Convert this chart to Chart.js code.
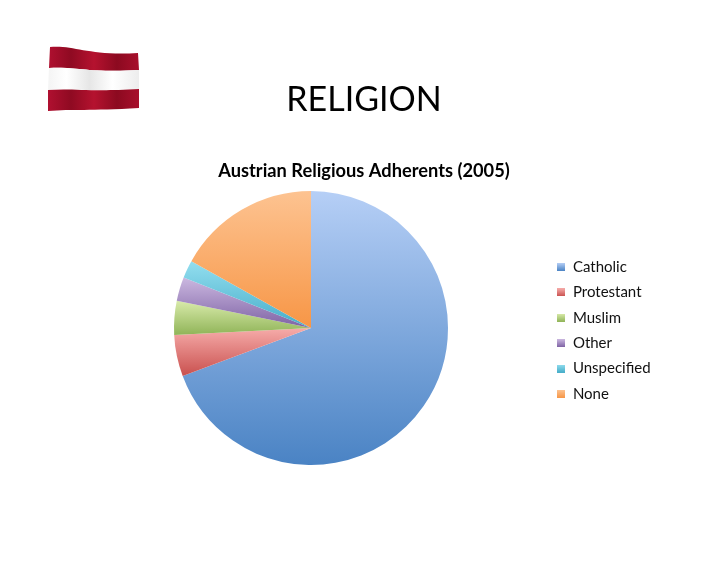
<!DOCTYPE html>
<html>
<head>
<meta charset="utf-8">
<title>Religion</title>
<script src="https://cdn.jsdelivr.net/npm/chart.js@4"></script>
<style>
html,body{margin:0;padding:0;background:#fff;}
#wrap{position:relative;width:728px;height:563px;overflow:hidden;}
</style>
</head>
<body>
<div id="wrap"><canvas id="pie" width="728" height="563"></canvas></div>
<script>
const categories = ["Catholic","Protestant","Muslim","Other","Unspecified","None"];
const shares = [69.3,4.9,4.0,2.8,2.1,16.9];
const topColors = ["#b6cff6","#f6acaa","#d9ebab","#cbb8e0","#93deef","#fdc391"];
const bottomColors = ["#4a83c4","#c9504e","#90b458","#7e62a4","#46adc9","#f79646"];

Chart.defaults.font.family = "Lato";
Chart.defaults.color = "#000";

/* gradient of one slice, over the height of that slice */
function sliceGradient(c){
  const chart = c.chart;
  const area = chart.chartArea;
  if(!area) return bottomColors[c.dataIndex];
  const total = shares.reduce((a,b)=>a+b,0);
  const before = shares.slice(0,c.dataIndex).reduce((a,b)=>a+b,0);
  const a0 = before/total*Math.PI*2;
  const a1 = (before+shares[c.dataIndex])/total*Math.PI*2;
  const cy = (area.top+area.bottom)/2;
  const r = Math.min(area.width,area.height)/2;
  let ys = [cy, cy-r*Math.cos(a0), cy-r*Math.cos(a1)];
  if(a0<=Math.PI && a1>=Math.PI) ys.push(cy+r);
  const g = chart.ctx.createLinearGradient(0,Math.min(...ys),0,Math.max(...ys));
  g.addColorStop(0,topColors[c.dataIndex]);
  g.addColorStop(1,bottomColors[c.dataIndex]);
  return g;
}

/* little gradient square for the legend */
function swatch(i){
  const s = document.createElement("canvas");
  s.width = 8; s.height = 8;
  const x = s.getContext("2d");
  const g = x.createLinearGradient(0,0,0,8);
  g.addColorStop(0,topColors[i]);
  g.addColorStop(1,bottomColors[i]);
  x.fillStyle = g;
  x.fillRect(0,0,8,8);
  return s;
}

/* waving flag in the corner of the slide */
const flagPlugin = {
  id:"flag",
  beforeDraw(chart){
    const x = chart.ctx;
    x.save();
    const band = (ya,yb,fill)=>{
      x.beginPath();
      x.moveTo(ya[0],ya[1]);
      x.bezierCurveTo(ya[0]+25,ya[1]-2,ya[2]-50,ya[3]+3,ya[2],ya[3]);
      x.lineTo(yb[2],yb[3]);
      x.bezierCurveTo(yb[2]-50,yb[3]+3,yb[0]+25,yb[1]-2,yb[0],yb[1]);
      x.closePath();
      x.fillStyle = fill;
      x.fill();
    };
    const red = x.createLinearGradient(48,0,140,0);
    red.addColorStop(0,"#b01030");
    red.addColorStop(0.25,"#8f0a22");
    red.addColorStop(0.5,"#b5122f");
    red.addColorStop(0.75,"#8c0a20");
    red.addColorStop(1,"#a90f2c");
    const white = x.createLinearGradient(48,0,140,0);
    white.addColorStop(0,"#f4f4f4");
    white.addColorStop(0.2,"#ffffff");
    white.addColorStop(0.45,"#e6e6e6");
    white.addColorStop(0.7,"#ffffff");
    white.addColorStop(1,"#ececec");
    band([50,47,138,53],[49,68,139,70],red);
    band([49,68,139,70],[48,90,139,89],white);
    band([48,90,139,89],[48,111,139,108],red);
    x.restore();
  }
};

new Chart(document.getElementById("pie"),{
  type:"pie",
  data:{
    labels:categories,
    datasets:[{
      data:shares,
      backgroundColor:sliceGradient,
      borderWidth:0
    }]
  },
  plugins:[flagPlugin],
  options:{
    responsive:false,
    animation:false,
    layout:{padding:{left:75,right:75,top:79.6,bottom:98}},
    plugins:{
      title:{
        display:true,
        text:"RELIGION",
        font:{size:34,weight:"normal"},
        padding:{top:0,bottom:39.6}
      },
      subtitle:{
        display:true,
        text:"Austrian Religious Adherents (2005)",
        font:{size:18.25,weight:"bold"},
        padding:{top:0,bottom:9.1}
      },
      legend:{
        position:"right",
        fullSize:false,
        maxWidth:106,
        /* blank title only nudges the rows down a little */
        title:{display:true,text:" ",font:{size:4},padding:0},
        labels:{
          usePointStyle:true,
          boxWidth:8,
          boxHeight:8,
          padding:10.4,
          font:{size:15},
          generateLabels(chart){
            return categories.map((name,i)=>({
              text:name,
              index:i,
              pointStyle:swatch(i),
              fillStyle:bottomColors[i],
              strokeStyle:bottomColors[i],
              fontColor:"#111",
              lineWidth:0
            }));
          }
        }
      },
      tooltip:{enabled:false}
    }
  }
});
</script>
</body>
</html>
